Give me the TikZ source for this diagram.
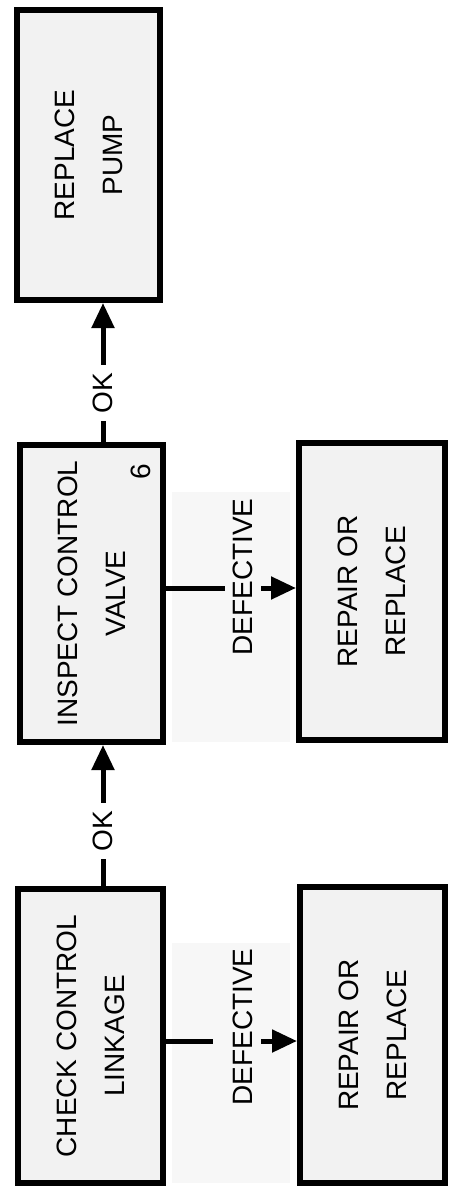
\documentclass[tikz,border=0pt]{standalone}
\usepackage{fontspec}
\usepackage{graphicx}
\setmainfont{Liberation Sans}
\usetikzlibrary{arrows.meta}
\newcommand{\rtext}[1]{\rotatebox{90}{\begin{tabular}{@{}c@{}}#1\end{tabular}}}
\begin{document}
\begin{tikzpicture}[x=1pt,y=-1pt,
  box/.style={draw=black, line width=6pt, fill=black!5, inner sep=0pt,
    font=\fontsize{28}{48}\selectfont},
  lbl/.style={inner xsep=8pt, inner ysep=8pt, font=\fontsize{28}{32}\selectfont},
  conn/.style={line width=5pt},
  arr/.style={-{Triangle[length=25pt,width=22pt]}}]
\useasboundingbox[fill=white] (0,0) rectangle (452,1196);
% faint background patches
\fill[black!3] (172,492) rectangle (290,742);
\fill[black!3] (172,943) rectangle (290,1183);
% boxes
\node[box, minimum width=143pt, minimum height=290pt] (pump) at (88.5,155) {\rtext{REPLACE\\PUMP}};
\node[box, minimum width=143pt, minimum height=297pt] (valve) at (91.5,593.5) {\rtext{INSPECT CONTROL\\VALVE}};
\node[box, minimum width=145pt, minimum height=294pt] (check) at (90.5,1036) {\rtext{CHECK CONTROL\\LINKAGE}};
\node[box, minimum width=146pt, minimum height=297pt] (rep1) at (372,591.5) {\rtext{REPAIR OR\\REPLACE}};
\node[box, minimum width=145pt, minimum height=296pt] (rep2) at (372.5,1035) {\rtext{REPAIR OR\\REPLACE}};
\node[font=\fontsize{28}{32}\selectfont, inner sep=0pt] (six) at (141,472) {\rotatebox{90}{6}};
% labels
\node[lbl] (ok1) at (103,393) {\rotatebox{90}{OK}};
\node[lbl] (ok2) at (103,831) {\rotatebox{90}{OK}};
\node[lbl] (def1) at (243,577) {\rotatebox{90}{DEFECTIVE}};
\node[lbl] (def2) at (243,1027) {\rotatebox{90}{DEFECTIVE}};
\coordinate (d1) at (0,588);
\coordinate (d2) at (0,1041);
% connectors
\draw[conn] (valve.north -| ok1) -- (ok1.south);
\draw[conn, arr] (ok1.north) -- (pump.south -| ok1);
\draw[conn] (check.north -| ok2) -- (ok2.south);
\draw[conn, arr] (ok2.north) -- (valve.south -| ok2);
\draw[conn] (valve.east |- d1) -- (def1.west |- d1);
\draw[conn, arr] (def1.east |- d1) -- (rep1.west |- d1);
\draw[conn] (check.east |- d2) -- ([xshift=-12pt]def2.west |- d2);
\draw[conn, arr] (def2.east |- d2) -- (rep2.west |- d2);
\end{tikzpicture}
\end{document}
